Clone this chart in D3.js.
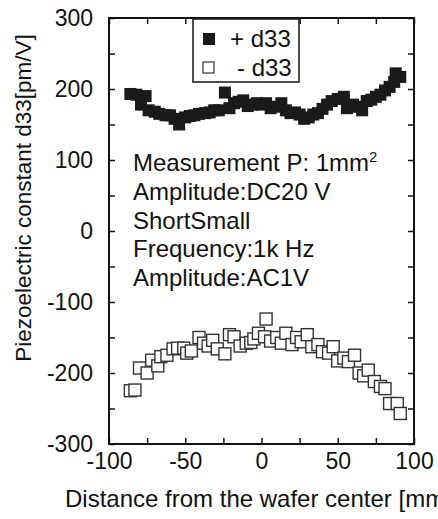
<!DOCTYPE html>
<html>
<head>
<meta charset="utf-8">
<script src="https://cdn.jsdelivr.net/npm/d3@7"></script>
<style>
  body { margin: 0; background: #fff; }
  text { font-family: "Liberation Sans", Arial, sans-serif; fill: #111; }
</style>
</head>
<body>
<script>
// + d33 (filled squares): [distance mm, d33 pm/V]
const plusD33 = [
    [-86, 193], [-82, 192], [-79, 178], [-76, 190], [-74, 170], [-70, 168], [-67, 165],
    [-63, 163], [-60, 163], [-57, 158], [-54, 150], [-50, 160], [-47, 162], [-44, 163],
    [-41, 165], [-37, 166], [-34, 167], [-31, 170], [-28, 170], [-24, 195], [-21, 173],
    [-18, 180], [-15, 182], [-12, 184], [-9, 176], [-6, 178], [-3, 180], [0, 178],
    [3, 180], [6, 173], [9, 175], [13, 180], [16, 170], [19, 166], [22, 167], [25, 164],
    [28, 158], [31, 160], [34, 164], [37, 166], [40, 172], [43, 178], [46, 183], [50, 186],
    [54, 189], [56, 173], [60, 178], [63, 175], [66, 170], [69, 183], [72, 185], [75, 189],
    [78, 192], [81, 198], [84, 203], [87, 210], [88, 222], [91, 217]
];

// - d33 (open squares)
const minusD33 = [
    [-86, -225], [-83, -224], [-80, -193], [-75, -200], [-72, -182], [-68, -190], [-66, -177],
    [-62, -175], [-58, -166], [-55, -165], [-51, -165], [-49, -172], [-46, -169], [-41, -150],
    [-38, -158], [-35, -162], [-32, -154], [-29, -166], [-24, -173], [-21, -146], [-18, -149],
    [-14, -162], [-10, -158], [-7, -157], [-5, -152], [-2, -144], [3, -124], [2, -149],
    [6, -155], [10, -150], [13, -158], [16, -144], [20, -160], [23, -150], [26, -156],
    [30, -146], [33, -163], [37, -160], [40, -170], [44, -172], [47, -163], [50, -183],
    [54, -179], [57, -184], [61, -175], [64, -200], [67, -204], [70, -196], [74, -212],
    [78, -219], [81, -222], [84, -243], [89, -243], [91, -257]
];

const xTicks = d3.range(-100, 101, 25);
const yTicks = d3.range(-300, 301, 50);

const legendItems = ["+ d33", "- d33"];
const noteLines = ["Amplitude:DC20 V", "ShortSmall", "Frequency:1k Hz", "Amplitude:AC1V"];

const dimensions = {
    width: 438,
    height: 519,
    margin: { top: 18, left: 109, right: 24, bottom: 75 },
};

const svg = d3.select("body").append("svg")
    .attr("width", dimensions.width)
    .attr("height", dimensions.height);

const innerW = dimensions.width - dimensions.margin.left - dimensions.margin.right;
const innerH = dimensions.height - dimensions.margin.top - dimensions.margin.bottom;

const bounds = svg.append("g")
    .attr("transform", `translate(${dimensions.margin.left}, ${dimensions.margin.top})`);

const xScale = d3.scaleLinear().domain([-100, 100]).range([0, innerW]);
const yScale = d3.scaleLinear().domain([-300, 300]).range([innerH, 0]);

// axes, ticks pointing inward
const styleAxis = g => {
    g.select(".domain").remove();
    g.selectAll(".tick line").attr("stroke", "#111").attr("stroke-width", 1.5);
    g.selectAll(".tick text").style("font-size", "23px").attr("fill", "#111");
};

bounds.append("g")
    .attr("transform", `translate(0, ${innerH})`)
    .call(d3.axisBottom(xScale).tickValues(xTicks).tickSize(-6).tickPadding(9)
        .tickFormat(d => d % 50 === 0 ? d : ""))
    .call(styleAxis);

bounds.append("g")
    .call(d3.axisTop(xScale).tickValues(xTicks).tickSize(-6).tickFormat(""))
    .call(styleAxis);

bounds.append("g")
    .call(d3.axisLeft(yScale).tickValues(yTicks).tickSize(-6).tickPadding(16)
        .tickFormat(d => d % 100 === 0 ? d : ""))
    .call(styleAxis);

bounds.append("g")
    .attr("transform", `translate(${innerW}, 0)`)
    .call(d3.axisRight(yScale).tickValues(yTicks).tickSize(-6).tickFormat(""))
    .call(styleAxis);

bounds.append("rect")
    .attr("width", innerW)
    .attr("height", innerH)
    .attr("fill", "none")
    .attr("stroke", "#111")
    .attr("stroke-width", 2);

// markers
const size = 12;
bounds.append("g").selectAll("rect")
    .data(minusD33)
    .join("rect")
    .attr("x", d => xScale(d[0]) - size / 2)
    .attr("y", d => yScale(d[1]) - size / 2)
    .attr("width", size)
    .attr("height", size)
    .attr("fill", "#fff")
    .attr("stroke", "#333")
    .attr("stroke-width", 1.4);

bounds.append("g").selectAll("rect")
    .data(plusD33)
    .join("rect")
    .attr("x", d => xScale(d[0]) - size / 2)
    .attr("y", d => yScale(d[1]) - size / 2)
    .attr("width", size)
    .attr("height", size)
    .attr("fill", "#1a1a1a");

// legend
const legend = svg.append("g").attr("transform", "translate(193, 19)");
legend.append("rect")
    .attr("width", 106)
    .attr("height", 63)
    .attr("fill", "#fff")
    .attr("stroke", "#222")
    .attr("stroke-width", 1.6);

legendItems.forEach((label, i) => {
    const cy = 20 + i * 29;
    legend.append("rect")
        .attr("x", 10).attr("y", cy - 6)
        .attr("width", i === 0 ? 12 : 11).attr("height", i === 0 ? 12 : 11)
        .attr("fill", i === 0 ? "#1a1a1a" : "#fff")
        .attr("stroke", i === 0 ? "none" : "#333")
        .attr("stroke-width", 1.2);
    legend.append("text")
        .attr("x", i === 0 ? 37 : 44)
        .attr("y", cy + 8)
        .style("font-size", "24px")
        .text(label);
});

// annotation
const note = svg.append("g").attr("transform", "translate(133, 171)");
const first = note.append("text").style("font-size", "24px");
first.append("tspan").text("Measurement P: 1mm");
first.append("tspan").attr("dy", -9).style("font-size", "15px").text("2");
noteLines.forEach((line, i) => {
    note.append("text")
        .attr("y", 29 + i * 28.5)
        .style("font-size", "24px")
        .text(line);
});

// axis titles
svg.append("text")
    .attr("x", 65)
    .attr("y", 507)
    .style("font-size", "24px")
    .text("Distance from the wafer center [mm]");

svg.append("text")
    .attr("transform", "translate(31, 198) rotate(-90)")
    .attr("text-anchor", "middle")
    .style("font-size", "22.5px")
    .text("Piezoelectric constant d33[pm/V]");
</script>
</body>
</html>
